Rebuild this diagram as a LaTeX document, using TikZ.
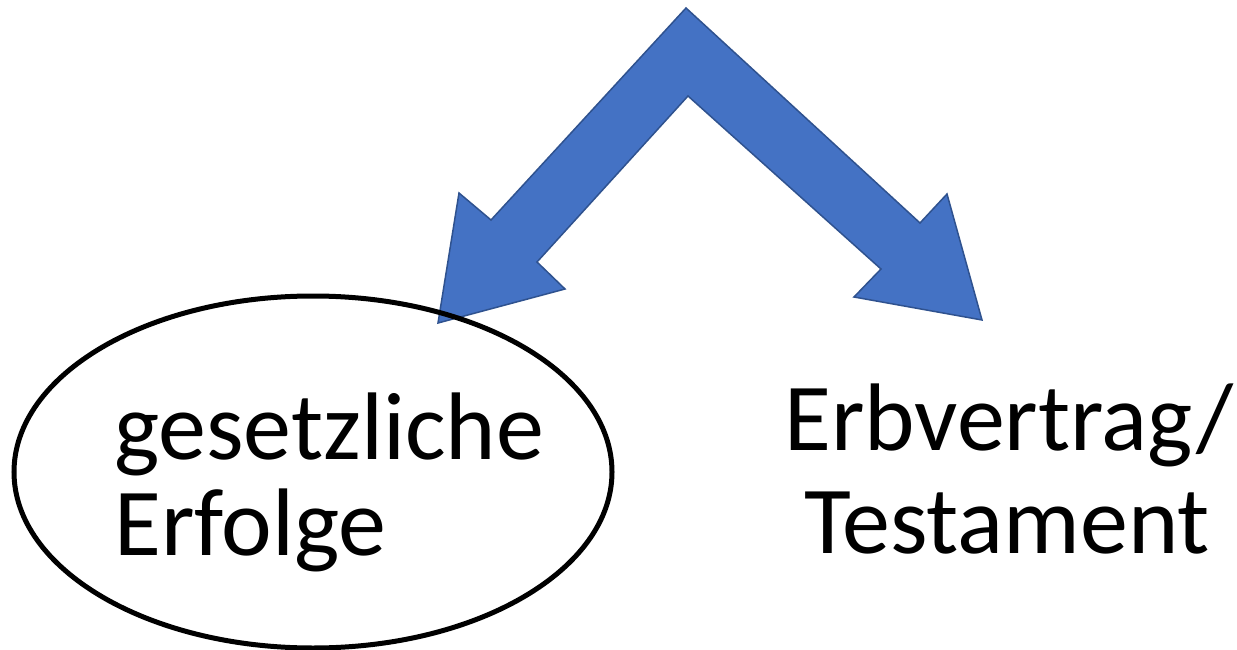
\documentclass[tikz,border=0pt]{standalone}
\usepackage{fontspec}
\setmainfont{Carlito}
\definecolor{arrowfill}{HTML}{4472C4}
\definecolor{arrowline}{HTML}{2F528F}
\tikzset{
  bigarrow/.style={fill=arrowfill, draw=arrowline, line width=1.5pt, line join=miter},
  oval/.style={draw=black, line width=5pt},
  lbl/.style={font=\fontsize{96}{100}\selectfont, inner sep=0pt, anchor=base west},
}
\begin{document}
\begin{tikzpicture}[x=1pt,y=-1pt]
\useasboundingbox (0,0) rectangle (1237,650);
% split arrow
\coordinate (apexO) at (686,8);
\coordinate (apexI) at (688,96);
\draw[bigarrow] (apexO) -- (491,220) -- (459,193) -- (438,323) -- (565,289) -- (537,262) -- (apexI)
  -- (881,269) -- (854,297) -- (982,320) -- (947,194) -- (920,223) -- cycle;
% ellipse
\draw[oval] (313,472) ellipse [x radius=299, y radius=176];
% texts
\node[lbl] (g1) at (114,459) {gesetzliche};
\node[lbl] (g2) at (114,555) {Erfolge};
\node[lbl] (e1) at (784,450) {Erbvertrag/};
\node[lbl] (e2) at (804,553) {Testament};
\end{tikzpicture}
\end{document}
